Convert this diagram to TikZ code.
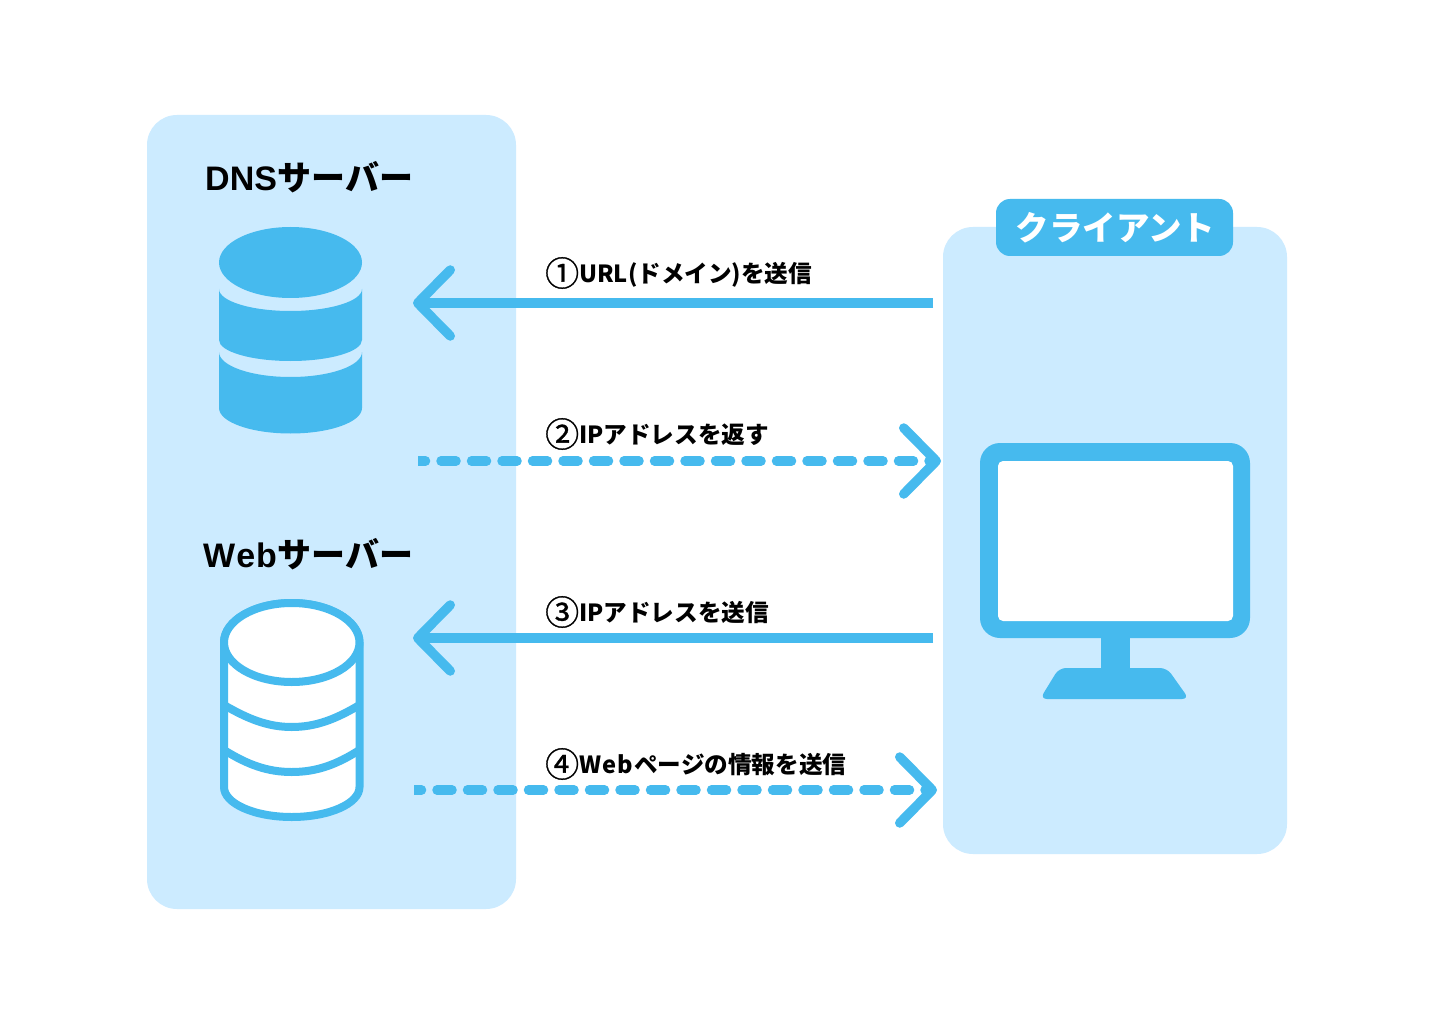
\documentclass[tikz,border=0pt]{standalone}
\usepackage{fontspec}
\usetikzlibrary{arrows.meta}
\newfontfamily\jp{Noto Sans CJK JP}
\newfontfamily\jpcirc[FakeBold=1]{Noto Sans CJK JP}
\newfontfamily\lat{Liberation Sans}
\definecolor{panel}{HTML}{CCEBFF}
\definecolor{accent}{HTML}{46BAEE}
\newcommand{\circnum}[1]{{\fontsize{34}{34}\selectfont\mdseries\jpcirc\raisebox{-3.4pt}{#1}}}
\newcommand{\lbl}[1]{{\fontsize{23.6}{24}\selectfont #1}}
\tikzset{
  x=1pt,y=-1pt,
  panelbox/.style={fill=panel,draw=none,rounded corners=30pt},
  solidfill/.style={fill=accent,draw=none},
  flow/.style={draw=accent,line width=9.5pt,-{Straight Barb[length=32.5pt,width=66pt,line width=9.5pt,round]}},
  flowdash/.style={flow,line cap=round,dash pattern=on 15pt off 15.5pt,dash phase=7.5pt},
  webline/.style={draw=accent,line width=8pt},
  msg/.style={anchor=west,inner sep=0pt,text=black,font=\jp\bfseries},
  title/.style={anchor=west,inner sep=0pt,text=black,font=\bfseries},
}
\begin{document}
\begin{tikzpicture}
\useasboundingbox (0,0) rectangle (1440,1024);
\fill[white] (0,0) rectangle (1440,1024);
% panels
\path[panelbox] (147,115) rectangle (516,909);
\path[panelbox] (943,227) rectangle (1287,854);
\path[solidfill,rounded corners=14pt] (996,199) rectangle (1233,256);
\node[inner sep=0pt,text=white,font=\jp\bfseries\fontsize{33.5}{34}\selectfont] (tag) at (1115.5,228) {クライアント};
% titles
\node[title] (dnstitle) at (205,177) {\fontsize{34}{34}\selectfont{\lat DNS}\kern0.5pt{\jp サーバー}};
\node[title] (webtitle) at (203,554.5) {\fontsize{34}{34}\selectfont{\lat W\kern1pt e\kern1pt b}\kern1pt{\jp サーバー}};
% DNS cylinder
\path[solidfill] (219,262.5) arc[x radius=71.5,y radius=35.5,start angle=180,end angle=540];
\path[solidfill] (219,289) arc[x radius=71.5,y radius=22,start angle=180,end angle=0] -- (362,340) arc[x radius=71.5,y radius=21,start angle=0,end angle=180] -- cycle;
\path[solidfill] (219,352) arc[x radius=71.5,y radius=25,start angle=180,end angle=0] -- (362,408) arc[x radius=71.5,y radius=25.5,start angle=0,end angle=180] -- cycle;
% Web cylinder
\path[fill=white,webline] (224,642.5) arc[x radius=67.75,y radius=39.5,start angle=180,end angle=360] -- (359.5,787) arc[x radius=67.75,y radius=30,start angle=0,end angle=180] -- cycle;
\path[fill=white,webline] (224,642.5) arc[x radius=67.75,y radius=39.5,start angle=180,end angle=540];
\draw[webline] (224,705) .. controls (248,719) and (268,727) .. (291.75,727) .. controls (316,727) and (336,719) .. (359.5,705);
\draw[webline] (224,750) .. controls (248,765) and (268,772) .. (291.75,772) .. controls (316,772) and (336,765) .. (359.5,750);
% monitor
\path[solidfill,rounded corners=20pt] (980,443) rectangle (1250,638);
\path[fill=white,rounded corners=5pt] (998,461) rectangle (1233,621);
\path[solidfill] (1101,630) rectangle (1130,675);
\path[solidfill,rounded corners=7pt] (1059,668) -- (1167,668) -- (1189,699) -- (1040,699) -- cycle;
% anchors of connectors
\coordinate (c1) at (933,303); \coordinate (d1) at (413,303);
\coordinate (d2) at (418,461);   \coordinate (c2) at (941,461);
\coordinate (c3) at (933,638); \coordinate (d3) at (413,638);
\coordinate (d4) at (414,790);   \coordinate (c4) at (937,790);
% connectors
\draw[flow] (c1) -- (d1);
\draw[flow] (c3) -- (d3);
\begin{scope}
\clip (418,400) rectangle (1000,520);
\draw[flowdash] (d2) -- (c2);
\end{scope}
\begin{scope}
\clip (414,730) rectangle (1000,850);
\draw[flowdash] (d4) -- (c4);
\end{scope}
% labels
\node[msg] (m1) at (545,273) {\circnum{①}\lbl{URL(ドメイン)を送信}};
\node[msg] (m2) at (545,434) {\circnum{②}\lbl{IPアドレスを返す}};
\node[msg] (m3) at (545,612) {\circnum{③}\lbl{IPアドレスを送信}};
\node[msg] (m4) at (545,764) {\circnum{④}\lbl{W\kern1pt e\kern1pt b\kern1.5pt ページの情報を送信}};
\end{tikzpicture}
\end{document}
